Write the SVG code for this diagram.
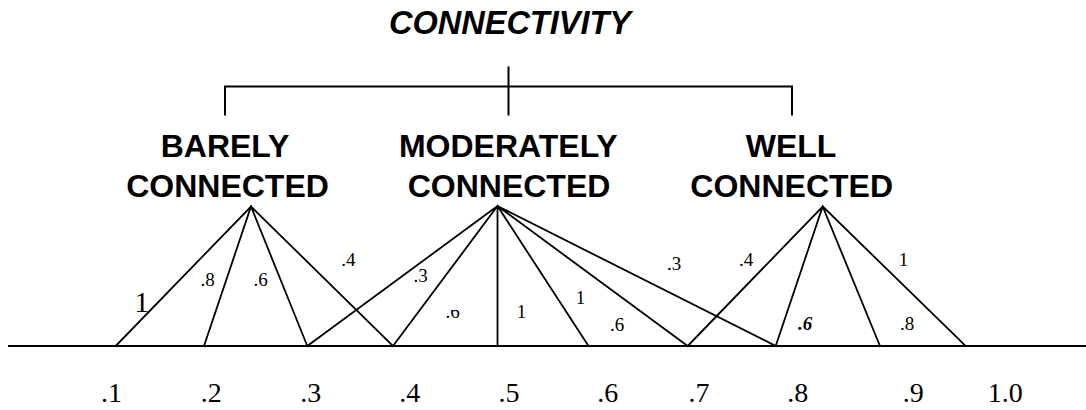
<svg xmlns="http://www.w3.org/2000/svg" width="1086" height="410" viewBox="0 0 1086 410">
  <style>
    .title { font-family: "Liberation Sans", Arial, sans-serif; font-weight: bold; font-style: italic; font-size: 32.5px; fill: #000; }
    .cat { font-family: "Liberation Sans", Arial, sans-serif; font-weight: bold; font-size: 32px; fill: #000; text-anchor: middle; }
    .tick { font-family: "Liberation Serif", "Times New Roman", serif; font-size: 28px; fill: #000; text-anchor: middle; }
    .w { font-family: "Liberation Serif", "Times New Roman", serif; font-size: 19px; fill: #000; text-anchor: middle; }
    .ln { stroke: #000; stroke-width: 1.8; fill: none; stroke-linecap: square; }
    .br { stroke: #000; stroke-width: 2; fill: none; }
  </style>
  <defs>
    <clipPath id="cutTop">
      <rect x="430" y="310" width="40" height="20"/>
    </clipPath>
  </defs>
  <rect width="1086" height="410" fill="#fff"/>

  <g id="title">
    <text class="title" x="510" y="34" text-anchor="middle">CONNECTIVITY</text>
  </g>

  <g id="connectors">
    <!-- hierarchy bracket -->
    <path class="br" d="M508.5 66.5 V115.5"/>
    <path class="br" d="M225 115.5 V86.5 H792 V115.5"/>
    <!-- axis -->
    <path class="br" d="M8 346 H1086"/>
    <!-- barely connected -->
    <path class="ln" d="M251 206.5 L115.7 346 M251 206.5 L204 346 M251 206.5 L307.3 346 M251 206.5 L393 346"/>
    <!-- moderately connected -->
    <path class="ln" d="M497.5 206 L307.3 346 M497.5 206 L393 346 M497.5 206 L497.5 346 M497.5 206 L588.5 346 M497.5 206 L687.7 346 M497.5 206 L775.7 346"/>
    <!-- well connected -->
    <path class="ln" d="M822.7 206.5 L687.7 346 M822.7 206.5 L775.7 346 M822.7 206.5 L880 346 M822.7 206.5 L965.7 346"/>
  </g>

  <g id="node-barely">
    <text class="cat" x="225" y="156.7">BARELY</text>
    <text class="cat" x="227.5" y="196.7">CONNECTED</text>
  </g>
  <g id="node-moderately">
    <text class="cat" x="508.3" y="156.7">MODERATELY</text>
    <text class="cat" x="509" y="196.7">CONNECTED</text>
  </g>
  <g id="node-well">
    <text class="cat" x="791" y="156.7">WELL</text>
    <text class="cat" x="791.7" y="196.7">CONNECTED</text>
  </g>

  <g id="weights">
    <text class="w" x="141.7" y="311.7" style="font-size:30px">1</text>
    <text class="w" x="207.5" y="286">.8</text>
    <text class="w" x="260.5" y="286">.6</text>
    <text class="w" x="348.3" y="266">.4</text>
    <text class="w" x="420.5" y="281.7">.3</text>
    <text class="w" x="452.5" y="317.7" clip-path="url(#cutTop)">.6</text>
    <text class="w" x="521.5" y="317.7">1</text>
    <text class="w" x="580.6" y="303.7">1</text>
    <text class="w" x="617" y="330.6">.6</text>
    <text class="w" x="674" y="269.6">.3</text>
    <text class="w" x="746" y="266">.4</text>
    <text class="w" x="805" y="329.5" style="font-weight:bold;font-style:italic">.6</text>
    <text class="w" x="903.5" y="266">1</text>
    <text class="w" x="907" y="329.5">.8</text>
  </g>

  <g id="axis-labels">
    <text class="tick" x="111.5" y="402">.1</text>
    <text class="tick" x="211.3" y="402">.2</text>
    <text class="tick" x="310.8" y="402">.3</text>
    <text class="tick" x="409.7" y="402">.4</text>
    <text class="tick" x="509" y="402">.5</text>
    <text class="tick" x="607.8" y="402">.6</text>
    <text class="tick" x="699" y="402">.7</text>
    <text class="tick" x="797.8" y="402">.8</text>
    <text class="tick" x="913.3" y="402">.9</text>
    <text class="tick" x="1005.3" y="402">1.0</text>
  </g>
</svg>
